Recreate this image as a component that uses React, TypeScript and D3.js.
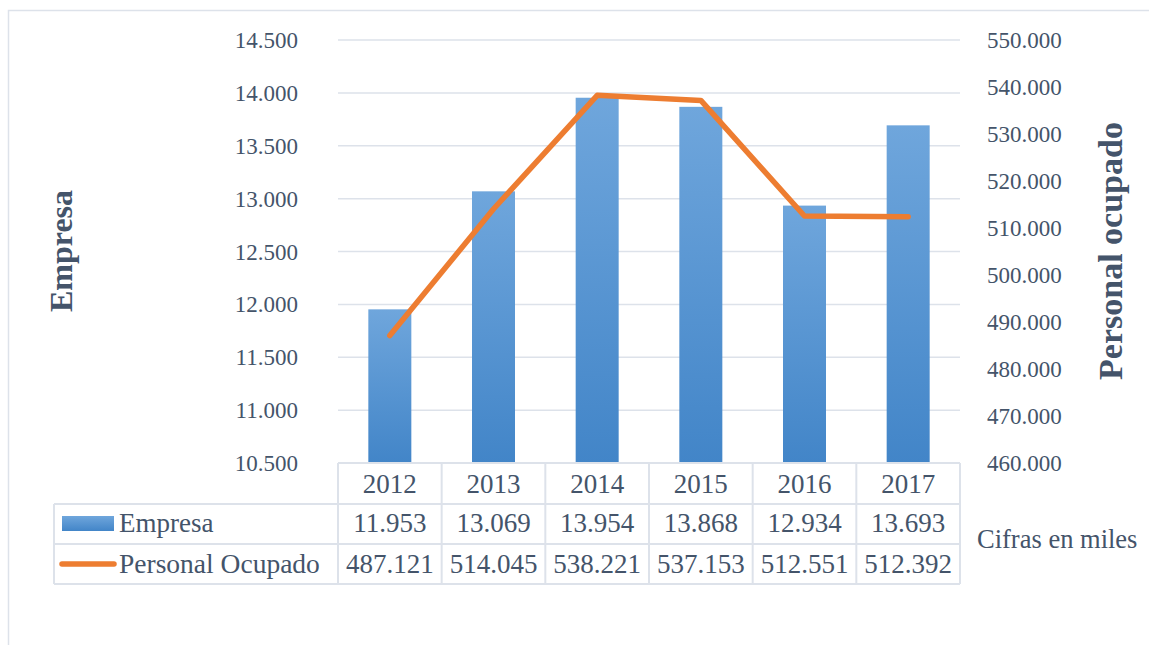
import React from 'react';
import * as d3 from 'd3';

const years = ['2012', '2013', '2014', '2015', '2016', '2017'];
const empresa = [11953, 13069, 13954, 13868, 12934, 13693];
const personal = [487121, 514045, 538221, 537153, 512551, 512392];
const leftTicks = [10500, 11000, 11500, 12000, 12500, 13000, 13500, 14000, 14500];
const rightTicks = [460000, 470000, 480000, 490000, 500000, 510000, 520000, 530000, 540000, 550000];

const W = 1149;
const H = 645;
const txt = '#44546a';
const gridC = '#dde2ea';
const font = '"Liberation Serif", "Times New Roman", serif';

const locale = d3.formatLocale({ decimal: ',', thousands: '.', grouping: [3], currency: ['', ''] });
const fmt = locale.format(',.0f');

const App = () => {
  const x = d3.scaleBand().domain(years).range([338, 960]);
  const yL = d3.scaleLinear().domain([10500, 14500]).range([463, 40]);
  const yR = d3.scaleLinear().domain([460000, 550000]).range([463, 40]);
  const barW = 43;

  const line = d3.line<number>()
    .x((_, i) => x(years[i])! + x.bandwidth() / 2)
    .y(d => yR(d));

  const rowTop = [463, 504, 544, 584];

  return (
    <svg width={W} height={H} style={{ position: 'fixed', left: 0, top: 0 }} fontFamily={font}>
      <defs>
        <linearGradient id="barGrad" x1="0" y1="0" x2="0" y2="1">
          <stop offset="0" stopColor="#6fa6dc" />
          <stop offset="1" stopColor="#4285c8" />
        </linearGradient>
        <linearGradient id="keyGrad" x1="0" y1="0" x2="0" y2="1">
          <stop offset="0" stopColor="#6fa6dc" />
          <stop offset="1" stopColor="#4285c8" />
        </linearGradient>
      </defs>
      <rect x={0} y={0} width={W} height={H} fill="#fff" />
      <rect x={8.5} y={10.5} width={W + 20} height={H + 20} fill="none" stroke="#dde2ea" strokeWidth={1.5} />

      {leftTicks.map(t => (
        <g key={t}>
          <line x1={338} x2={960} y1={yL(t)} y2={yL(t)} stroke={gridC} strokeWidth={1.5} />
          <text x={298} y={yL(t)} dy="0.35em" textAnchor="end" fontSize={23} fill={txt}>{fmt(t)}</text>
        </g>
      ))}
      {rightTicks.map(t => (
        <text key={t} x={987} y={yR(t)} dy="0.35em" textAnchor="start" fontSize={23} fill={txt}>{fmt(t)}</text>
      ))}

      {empresa.map((v, i) => (
        <rect key={years[i]} x={x(years[i])! + x.bandwidth() / 2 - barW / 2} y={yL(v)} width={barW}
          height={yL(10500) - yL(v)} fill="url(#barGrad)" />
      ))}

      <path d={line(personal) || ''} fill="none" stroke="#ed7d31" strokeWidth={5.5} strokeLinejoin="round" strokeLinecap="round" />

      <text transform={`translate(72,251) rotate(-90)`} textAnchor="middle" fontSize={32} fontWeight="bold" fill={txt}>Empresa</text>
      <text transform={`translate(1122,251) rotate(-90)`} textAnchor="middle" fontSize={34} fontWeight="bold" fill={txt}>Personal ocupado</text>

      {/* data table */}
      <g stroke={gridC} strokeWidth={2} fill="none">
        <line x1={338} x2={960} y1={rowTop[0]} y2={rowTop[0]} />
        {rowTop.slice(1).map(r => <line key={r} x1={54} x2={960} y1={r} y2={r} />)}
        <line x1={54} x2={54} y1={504} y2={584} />
        {years.map(yr => <line key={yr} x1={x(yr)} x2={x(yr)} y1={463} y2={584} />)}
        <line x1={960} x2={960} y1={463} y2={584} />
      </g>
      {years.map((yr, i) => (
        <g key={yr} fontSize={27} fill={txt} textAnchor="middle">
          <text x={x(yr)! + x.bandwidth() / 2} y={493}>{yr}</text>
          <text x={x(yr)! + x.bandwidth() / 2} y={532}>{fmt(empresa[i])}</text>
          <text x={x(yr)! + x.bandwidth() / 2} y={573}>{fmt(personal[i])}</text>
        </g>
      ))}
      <rect x={62} y={516} width={52} height={15} fill="url(#keyGrad)" />
      <line x1={62} x2={114} y1={564} y2={564} stroke="#ed7d31" strokeWidth={5.5} strokeLinecap="round" />
      <text x={119} y={532} fontSize={27} fill={txt}>Empresa</text>
      <text x={119} y={573} fontSize={27.5} fill={txt}>Personal Ocupado</text>

      <text x={977} y={548} fontSize={26.5} fill={txt}>Cifras en miles</text>
    </svg>
  );
};

export default App;
